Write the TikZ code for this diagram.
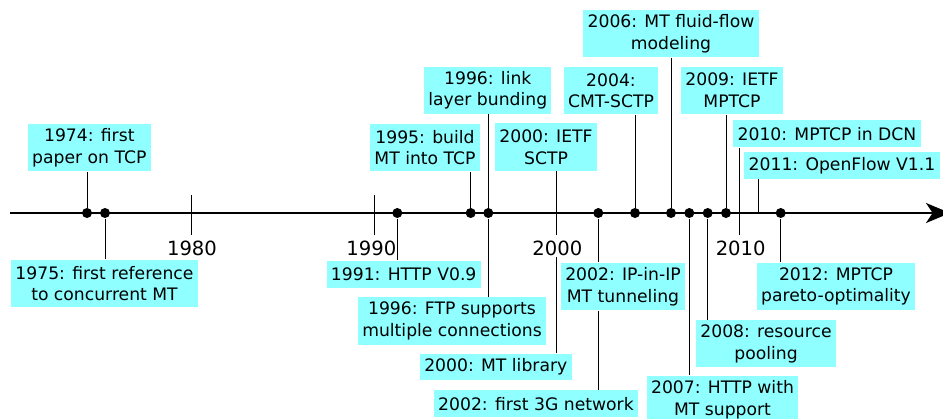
\documentclass[tikz,border=0pt]{standalone}
\usepackage{fontspec}
\setmainfont{DejaVu Sans}
\usetikzlibrary{arrows.meta}
\definecolor{evcyan}{RGB}{143,255,255}
\tikzset{every picture/.style={line width=0.75pt}}
\tikzset{
  evbox/.style={fill=evcyan, inner xsep=3.2pt, inner ysep=1pt, align=center,
    font=\fontsize{12.9}{16.3}\selectfont, minimum height=20pt},
  evboxtwo/.style={evbox, minimum height=35.3pt},
  evdot/.style={circle, fill=black, inner sep=0pt, minimum size=7.5pt},
  yearlbl/.style={inner sep=1pt, font=\fontsize{14.7}{17}\selectfont},
}

\begin{document}
\begin{tikzpicture}[x=0.75pt,y=0.75pt,yscale=-1,xscale=1]
\useasboundingbox (0,0) rectangle (943,418);

%Time axis
\draw [line width=1.8pt, -{Stealth[length=18pt,width=15pt,inset=5pt]}] (10,213) -- (950,213);
%Decade ticks
\foreach \x in {191,374,556.7,739.3}
  \draw (\x,195) -- (\x,235);

% Year labels
\node [yearlbl] (y1980) at (192,248) {1980};
\node [yearlbl] (y1990) at (371.3,248) {1990};
\node [yearlbl] (y2000) at (557.3,248) {2000};
\node [yearlbl] (y2010) at (740.7,248) {2010};

% Event dots
\node [evdot] (d1974) at (87,213) {};
\node [evdot] (d1975) at (105,213) {};
\node [evdot] (d1991) at (397.3,213) {};
\node [evdot] (d1995) at (470.7,213) {};
\node [evdot] (d1996) at (488.3,213) {};
\node [evdot] (d2002) at (598.3,213) {};
\node [evdot] (d2004) at (635,213) {};
\node [evdot] (d2006) at (671,213) {};
\node [evdot] (d2007) at (689.3,213) {};
\node [evdot] (d2008) at (707.7,213) {};
\node [evdot] (d2009) at (726,213) {};
\node [evdot] (d2012) at (780.7,213) {};
\coordinate (t2000) at (556.7,213);
\coordinate (t2010) at (739.3,213);
\coordinate (t2011) at (758.3,213);

% Events above the axis
\node [evboxtwo] (b1974) at (89.3,147.5) {1974: first\\paper on TCP};
\node [evboxtwo] (b1995) at (425,147.5) {1995: build\\MT into TCP};
\node [evboxtwo] (b1996l) at (487.8,90.3) {1996: link\\layer bunding};
\node [evboxtwo] (b2000s) at (546,147) {2000: IETF\\SCTP};
\node [evboxtwo] (b2004) at (611,90.7) {2004:\\CMT-SCTP};
\node [evboxtwo] (b2006) at (671,33.5) {2006: MT fluid-flow\\modeling};
\node [evboxtwo] (b2009) at (732,90.5) {2009: IETF\\MPTCP};
\node [evbox] (b2010) at (827,133.7) {2010: MPTCP in DCN};
\node [evbox] (b2011) at (842,165.3) {2011: OpenFlow V1.1};

% Events below the axis
\node [evboxtwo] (b1975) at (104.5,283.5) {1975: first reference\\to concurrent MT};
\node [evbox] (b1991) at (403.7,274.3) {1991: HTTP V0.9};
\node [evboxtwo] (b1996f) at (452,321) {1996: FTP supports\\multiple connections};
\node [evbox] (b2000l) at (495.8,367) {2000: MT library};
\node [evboxtwo] (b2002i) at (623,286.5) {2002: IP-in-IP\\MT tunneling};
\node [evbox] (b2002g) at (536,403.7) {2002: first 3G network};
\node [evboxtwo] (b2007) at (722.5,399.5) {2007: HTTP with\\MT support};
\node [evboxtwo] (b2008) at (766,343.7) {2008: resource\\pooling};
\node [evboxtwo] (b2012) at (836,286.3) {2012: MPTCP\\pareto-optimality};

% Connectors
\draw (d1974 |- b1974.south) -- (d1974);
\draw (d1995 |- b1995.south) -- (d1995);
\draw (d1996 |- b1996l.south) -- (d1996);
\draw (t2000 |- b2000s.south) -- (t2000);
\draw (d2004 |- b2004.south) -- (d2004);
\draw (d2006 |- b2006.south) -- (d2006);
\draw (d2009 |- b2009.south) -- (d2009);
\draw (t2010 |- b2010.south) -- (t2010);
\draw (t2011 |- b2011.south) -- (t2011);
\draw (d1975) -- (d1975 |- b1975.north);
\draw (d1991) -- (d1991 |- b1991.north);
\draw (d1996) -- (d1996 |- b1996f.north);
\draw (t2000 |- y2000.south) -- (t2000 |- b2000l.north);
\draw (d2002) -- (d2002 |- b2002i.north);
\draw (d2002 |- b2002i.south) -- (d2002 |- b2002g.north);
\draw (d2007) -- (d2007 |- b2007.north);
\draw (d2008) -- (d2008 |- b2008.north);
\draw (d2012) -- (d2012 |- b2012.north);

\end{tikzpicture}
\end{document}
